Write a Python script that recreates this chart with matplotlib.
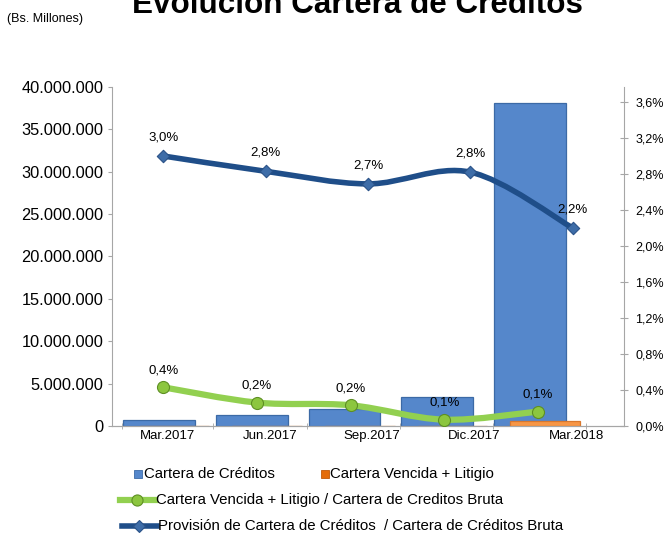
import matplotlib
matplotlib.use("Agg")
import matplotlib.pyplot as plt
import numpy as np
from matplotlib.path import Path
from matplotlib.patches import PathPatch

plt.rcParams["font.family"] = ["Liberation Sans", "DejaVu Sans"]

# ----------------------------------------------------------------------
# Data
# ----------------------------------------------------------------------
periods = ["Mar.2017", "Jun.2017", "Sep.2017", "Dic.2017", "Mar.2018"]
cartera = [650000, 1250000, 2050000, 3450000, 38100000]       # Bs. millones
vencida = [25000, 30000, 30000, 35000, 600000]                # Bs. millones
ratio_vencida = [0.43, 0.26, 0.23, 0.07, 0.16]                # %
ratio_vencida_lbl = ["0,4%", "0,2%", "0,2%", "0,1%", "0,1%"]
ratio_provision = [3.0, 2.83, 2.69, 2.82, 2.2]                # %
ratio_provision_lbl = ["3,0%", "2,8%", "2,7%", "2,8%", "2,2%"]

BLUE_BAR = "#5587CB"
ORANGE = "#F79646"
GREEN = "#92D050"
NAVY = "#1F4E89"
GREY = "#A6A6A6"


def smooth_path(x, y):
    """Catmull-Rom style cubic Bezier path through the points (Excel smoothed line)."""
    x = np.asarray(x, float); y = np.asarray(y, float)
    verts = [(x[0], y[0])]
    codes = [Path.MOVETO]
    n = len(x)
    for i in range(n - 1):
        x0, y0 = (x[i - 1], y[i - 1]) if i > 0 else (x[i], y[i])
        x3, y3 = (x[i + 2], y[i + 2]) if i + 2 < n else (x[i + 1], y[i + 1])
        c1 = (x[i] + (x[i + 1] - x0) / 6, y[i] + (y[i + 1] - y0) / 6)
        c2 = (x[i + 1] - (x3 - x[i]) / 6, y[i + 1] - (y3 - y[i]) / 6)
        verts += [c1, c2, (x[i + 1], y[i + 1])]
        codes += [Path.CURVE4] * 3
    return Path(verts, codes)


fig = plt.figure(figsize=(6.67, 5.33), dpi=100)
ax = fig.add_axes([0.168, 0.2008, 0.7675, 0.636])
ax2 = ax.twinx()

idx = np.arange(len(periods))
x_bar = 0.46 + idx * 0.905
x_green = 0.50 + idx * 0.915
x_navy = 0.5 + idx
x_lbl = 0.54 + idx

ax.bar(x_bar, cartera, width=0.70, color=BLUE_BAR, edgecolor="#3C6AA6",
       linewidth=0.9, zorder=2)
ax.bar(x_bar + 0.15, vencida, width=0.68, color=ORANGE, edgecolor="#D9782D",
       linewidth=0.9, zorder=3)

ax.set_xlim(0, 5)
ax.set_ylim(0, 40000000)
ax.set_yticks(np.arange(0, 40000001, 5000000))
ax.set_yticklabels([f"{int(v):,}".replace(",", ".") for v in ax.get_yticks()],
                   fontsize=11.8)
ax.set_xticks(x_lbl)
ax.set_xticklabels(periods, fontsize=9.5)
ax.tick_params(axis="x", length=0, pad=3)
ax.set_xticks([0.1] + [0.99 + i * 0.91 for i in range(5)], minor=True)
ax.tick_params(axis="x", which="minor", length=4, color=GREY, direction="inout")
ax.tick_params(axis="y", length=3, color=GREY, pad=3)

for a in (ax, ax2):
    a.spines["top"].set_visible(False)
    for sp in ["left", "right", "bottom"]:
        a.spines[sp].set_color(GREY)
ax2.spines["left"].set_visible(False)
ax.spines["right"].set_visible(False)

ax2.set_ylim(0, 3.6 * 339 / 324)
ax2.set_yticks(np.arange(0, 3.61, 0.4))
ax2.set_yticklabels([f"{v:.1f}%".replace(".", ",") for v in np.arange(0, 3.61, 0.4)],
                    fontsize=9)
ax2.tick_params(axis="y", length=6, color=GREY, direction="inout", pad=5)

# smoothed lines
ax2.add_patch(PathPatch(smooth_path(x_green, ratio_vencida), fill=False,
                        edgecolor=GREEN, lw=4.5, capstyle="round", zorder=4))
ax2.scatter(x_green, ratio_vencida, s=75, color="#8CC63F", edgecolor="#5E8F24",
            linewidth=0.8, zorder=5)
ax2.add_patch(PathPatch(smooth_path(x_navy, ratio_provision), fill=False,
                        edgecolor=NAVY, lw=4.0, capstyle="round", zorder=4))
ax2.scatter(x_navy, ratio_provision, s=40, marker="D", color="#3E6DA8",
            edgecolor="#2A5288", linewidth=0.8, zorder=5)

for xv, yv, t in zip(x_green, ratio_vencida, ratio_vencida_lbl):
    ax2.annotate(t, (xv, yv), xytext=(0, 8), textcoords="offset points",
                 ha="center", va="bottom", fontsize=9.5, zorder=6)
for xv, yv, t in zip(x_navy, ratio_provision, ratio_provision_lbl):
    ax2.annotate(t, (xv, yv), xytext=(0, 9), textcoords="offset points",
                 ha="center", va="bottom", fontsize=9.5, zorder=6)

# titles
fig.text(357 / 667, 1.0 - 13 / 533, "Evolución Cartera de Créditos", ha="center",
         va="baseline", fontsize=22.6, fontweight="bold")
fig.text(7 / 667, 1.0 - 22 / 533, "(Bs. Millones)", ha="left", va="baseline",
         fontsize=9)


# legend (manual, to keep Excel layout)
def fy(py):
    return 1.0 - py / 533


def fx(px):
    return px / 667


fig.patches.append(plt.Rectangle((fx(134), fy(478)), 8 / 667, 8 / 533,
                                 transform=fig.transFigure, facecolor=BLUE_BAR,
                                 edgecolor="#3C6AA6", lw=0.6))
fig.text(fx(144), fy(474), "Cartera de Créditos", va="center", fontsize=10.8)
fig.patches.append(plt.Rectangle((fx(321), fy(478)), 8 / 667, 8 / 533,
                                 transform=fig.transFigure, facecolor="#E46C0A",
                                 edgecolor="#C05A08", lw=0.6))
fig.text(fx(330), fy(474), "Cartera Vencida + Litigio", va="center", fontsize=10.8)

fig.add_artist(plt.Line2D([fx(120), fx(155)], [fy(500), fy(500)], color=GREEN,
                          lw=4.5, transform=fig.transFigure))
fig.add_artist(plt.Line2D([fx(137)], [fy(500)], marker="o", ms=8,
                          color="#8CC63F", mec="#5E8F24", mew=0.8,
                          transform=fig.transFigure))
fig.text(fx(156), fy(500), "Cartera Vencida + Litigio / Cartera de Creditos Bruta",
         va="center", fontsize=10.8)

fig.add_artist(plt.Line2D([fx(122), fx(157)], [fy(526), fy(526)], color=NAVY,
                          lw=4.0, transform=fig.transFigure))
fig.add_artist(plt.Line2D([fx(139)], [fy(526)], marker="D", ms=6,
                          color="#3E6DA8", mec="#2A5288", mew=0.8,
                          transform=fig.transFigure))
fig.text(fx(158), fy(526),
         "Provisión de Cartera de Créditos  / Cartera de Créditos Bruta",
         va="center", fontsize=10.8)

fig.savefig("out.png", dpi=100)
